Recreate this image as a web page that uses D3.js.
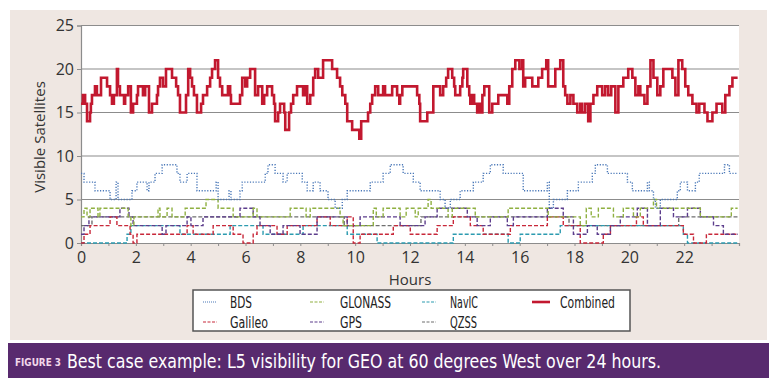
<!DOCTYPE html>
<html><head><meta charset="utf-8">
<script src="https://cdn.jsdelivr.net/npm/d3@7"></script>
<style>
html,body{margin:0;padding:0;background:#fff;}
svg{display:block;}
</style></head>
<body><svg id="c" width="776" height="387"></svg>
<script>
// ---- data: [hour, visible satellites] change points (step series) ----
const hoursTicks = [0,2,4,6,8,10,12,14,16,18,20,22];
const yTicks = [0,5,10,15,20,25];
const seriesNames = ["BDS","GLONASS","NavIC","Combined","Galileo","GPS","QZSS"];

const combined = [[0,16],[0.07,17],[0.15,16],[0.22,14],[0.33,15],[0.36,16],[0.40,17],[0.51,18],[0.58,17],[0.73,19],[0.95,18],[1.06,17],[1.13,16],[1.20,17],[1.31,20],[1.35,18],[1.42,17],[1.57,16],[1.61,17],[1.72,18],[1.82,15],[1.90,16],[2.04,17],[2.08,18],[2.26,17],[2.34,18],[2.48,15],[2.59,16],[2.77,17],[2.81,18],[2.88,19],[2.99,18],[3.10,20],[3.32,19],[3.47,18],[3.54,17],[3.61,15],[3.83,17],[3.91,20],[3.98,19],[4.05,18],[4.12,17],[4.23,15],[4.38,16],[4.45,17],[4.60,18],[4.71,19],[4.78,20],[4.89,21],[5.00,19],[5.07,18],[5.15,17],[5.36,18],[5.44,17],[5.47,16],[5.80,17],[5.88,19],[5.99,18],[6.06,19],[6.17,20],[6.35,17],[6.46,18],[6.61,16],[6.68,17],[6.79,18],[6.97,17],[7.04,16],[7.08,14],[7.19,15],[7.26,16],[7.41,15],[7.45,13],[7.59,15],[7.66,16],[7.74,17],[7.88,18],[8.10,17],[8.18,18],[8.25,16],[8.36,17],[8.47,19],[8.54,20],[8.65,19],[8.83,21],[9.16,20],[9.34,19],[9.45,18],[9.53,17],[9.64,16],[9.71,14],[9.89,13],[10.15,12],[10.22,14],[10.47,15],[10.55,16],[10.62,17],[10.73,18],[10.84,17],[11.02,18],[11.09,17],[11.35,18],[11.53,17],[11.61,16],[11.64,17],[11.72,18],[12.26,17],[12.34,16],[12.37,14],[12.63,15],[12.85,18],[13.10,17],[13.21,18],[13.32,19],[13.39,20],[13.54,19],[13.61,18],[13.65,17],[13.83,18],[13.91,19],[13.94,20],[14.09,18],[14.16,17],[14.20,16],[14.27,17],[14.34,16],[14.45,15],[14.53,16],[14.56,15],[14.64,17],[14.71,18],[14.89,15],[15.00,16],[15.22,17],[15.55,16],[15.62,18],[15.73,20],[15.84,21],[15.99,20],[16.09,21],[16.13,18],[16.20,19],[16.46,18],[16.68,19],[16.82,20],[16.97,21],[17.04,18],[17.30,20],[17.48,21],[17.59,18],[17.66,17],[17.74,16],[17.85,17],[17.96,16],[18.10,15],[18.21,16],[18.28,15],[18.39,16],[18.50,14],[18.58,16],[18.69,17],[18.83,18],[19.01,17],[19.12,18],[19.23,17],[19.34,18],[19.49,15],[19.60,18],[19.78,19],[19.96,20],[20.11,19],[20.22,17],[20.33,18],[20.40,17],[20.55,16],[20.66,18],[20.77,21],[20.88,19],[21.02,17],[21.13,18],[21.24,20],[21.57,19],[21.68,17],[21.79,21],[21.93,20],[22.04,18],[22.15,17],[22.30,16],[22.45,15],[22.55,16],[22.74,15],[22.85,14],[23.03,15],[23.18,16],[23.39,15],[23.50,17],[23.65,18],[23.76,19],[23.95,19]];

const bds = [[0,8],[0.11,7],[0.51,6],[1.06,5],[1.28,7],[1.35,5],[1.86,6],[2.04,7],[2.41,6],[2.48,7],[2.70,8],[2.96,9],[3.50,8],[3.61,7],[3.87,8],[4.23,6],[4.93,7],[5.00,5],[5.40,6],[5.47,5],[5.80,6],[5.88,7],[6.72,8],[6.82,9],[7.08,8],[7.37,7],[7.52,8],[8.07,7],[8.25,6],[8.47,7],[8.72,6],[9.01,5],[9.27,4],[9.53,5],[9.71,6],[10.55,7],[11.02,8],[11.28,9],[11.75,8],[12.12,7],[12.37,6],[13.10,5],[13.28,4],[13.47,5],[13.83,6],[14.31,7],[14.67,8],[14.93,9],[15.40,8],[16.13,6],[17.01,7],[17.08,4],[17.23,5],[17.74,6],[18.14,7],[18.65,8],[18.76,9],[19.20,8],[19.93,7],[20.11,6],[20.66,7],[20.73,6],[20.88,5],[20.95,4],[21.13,5],[21.75,6],[21.86,7],[22.12,6],[22.41,7],[22.55,8],[23.47,9],[23.65,8],[23.95,8]];

const glonass = [[0,3],[0.11,4],[0.22,3],[0.33,4],[0.62,3],[0.69,4],[1.72,3],[1.82,2],[1.93,3],[2.81,4],[2.88,3],[3.14,4],[3.32,3],[3.80,4],[4.56,5],[5.00,4],[5.55,3],[6.28,4],[6.42,3],[7.63,4],[8.21,3],[8.36,4],[9.45,3],[9.56,2],[10.66,4],[10.77,3],[11.02,4],[11.64,3],[11.86,4],[12.19,3],[12.30,4],[12.66,5],[12.77,4],[13.39,3],[13.54,4],[14.38,3],[15.58,4],[17.04,3],[18.21,2],[18.43,4],[18.61,3],[18.87,4],[19.42,3],[19.78,4],[20.15,3],[20.40,4],[20.88,5],[20.99,4],[22.59,3],[23.72,4],[23.95,4]];

const navic = [[0,0],[1.68,1],[1.82,2],[3.61,1],[5.44,2],[6.64,1],[8.10,2],[9.71,1],[10.80,0],[13.58,1],[15.58,0],[16.02,1],[17.48,2],[21.97,1],[22.12,0],[23.95,0]];

const galileo = [[0,0],[0.11,1],[0.33,2],[1.06,3],[1.31,2],[1.79,1],[1.90,0],[2.04,1],[3.87,2],[4.09,1],[4.82,2],[5.55,1],[5.91,0],[6.28,1],[6.42,2],[7.15,1],[7.52,2],[8.61,3],[9.09,2],[9.71,3],[9.93,0],[10.18,1],[11.39,2],[12.01,1],[12.99,2],[13.58,3],[14.20,2],[14.67,1],[15.66,2],[17.01,3],[17.59,2],[18.21,0],[19.05,1],[19.31,2],[20.26,3],[20.51,2],[21.97,1],[22.34,0],[22.81,1],[23.95,1]];

const gps = [[0,1],[0.11,2],[0.29,3],[1.42,4],[1.75,3],[1.90,2],[2.96,1],[3.10,2],[3.87,3],[4.01,2],[4.45,3],[5.80,4],[6.28,3],[6.53,2],[6.90,1],[7.37,2],[7.99,1],[8.61,3],[9.71,2],[10.18,3],[11.64,2],[12.55,3],[12.99,4],[14.09,3],[14.45,2],[14.93,3],[15.55,2],[15.77,3],[17.01,4],[17.59,3],[17.96,1],[18.47,2],[18.83,1],[19.31,2],[19.67,3],[20.29,4],[20.66,2],[21.13,4],[21.61,3],[22.12,4],[22.59,3],[23.07,2],[23.43,1],[23.95,1]];

const qzss = [[0,2],[0.40,3],[9.60,2],[12.40,3],[17.80,2],[21.80,3],[23.95,3]];

// ---- drawing ----
const svg = d3.select("#c");
const x = d3.scaleLinear().domain([0,24]).range([81,739]);
const y = d3.scaleLinear().domain([0,25]).range([243,25.5]);

svg.append("rect").attr("x",10).attr("y",10).attr("width",757).attr("height",330).attr("fill","#efe7e2");
svg.append("rect").attr("x",x(0)).attr("y",y(25)).attr("width",x(24)-x(0)).attr("height",y(0)-y(25)).attr("fill","#fff");

svg.append("g").selectAll("line").data(yTicks.filter(d=>d>0)).join("line")
  .attr("x1",x(0)).attr("x2",x(24)).attr("y1",d=>y(d)).attr("y2",d=>y(d))
  .attr("stroke","#8c8c8c").attr("stroke-width",1.2);

const tickFont = "'Open Sans', 'Noto Sans', sans-serif";

const xAxis = d3.axisBottom(x).tickValues(d3.range(0,24,1)).tickSize(3)
  .tickFormat(d => hoursTicks.includes(d) ? String(d) : "");
const gx = svg.append("g").attr("transform",`translate(0,${y(0)})`).call(xAxis);
gx.select(".domain").attr("stroke","#8c8c8c").attr("stroke-width",1.2);
gx.selectAll(".tick line").attr("stroke","#8c8c8c");
gx.selectAll("text").attr("font-family",tickFont).attr("font-size",16).attr("fill","#333").attr("dy","0.85em");

const yAxis = d3.axisLeft(y).tickValues(yTicks).tickSize(4).tickPadding(3);
const gy = svg.append("g").attr("transform",`translate(${x(0)},0)`).call(yAxis);
gy.select(".domain").attr("stroke","#8c8c8c").attr("stroke-width",1.2);
gy.selectAll(".tick line").attr("stroke","#8c8c8c");
gy.selectAll("text").attr("font-family",tickFont).attr("font-size",16).attr("fill","#333");

svg.append("text").attr("x",410).attr("y",285).attr("text-anchor","middle")
  .attr("font-family",tickFont).attr("font-size",15).attr("fill","#333").text("Hours");
svg.append("text").attr("transform","translate(45,137) rotate(-90)").attr("text-anchor","middle")
  .attr("font-family",tickFont).attr("font-size",15).attr("fill","#333").text("Visible Satellites");

const styles = {
  BDS:      {data:bds,      color:"#4a78b8", width:1.4, dash:"1.2,1.6"},
  GLONASS:  {data:glonass,  color:"#8fb041", width:1.4, dash:"4,2"},
  NavIC:    {data:navic,    color:"#2c9bb0", width:1.4, dash:"4,2"},
  Galileo:  {data:galileo,  color:"#c8283a", width:1.4, dash:"4,2"},
  GPS:      {data:gps,      color:"#5c3d8c", width:1.4, dash:"4,2"},
  QZSS:     {data:qzss,     color:"#6f6f6f", width:1.4, dash:"4,2"},
  Combined: {data:combined, color:"#c2182f", width:2.6, dash:null}
};
const line = d3.line().x(d=>x(d[0])).y(d=>y(d[1])).curve(d3.curveStepAfter);
const drawOrder = ["QZSS","NavIC","Galileo","GPS","GLONASS","BDS","Combined"];
const gS = svg.append("g");
drawOrder.forEach(n => {
  const s = styles[n];
  gS.append("path").datum(s.data).attr("d",line).attr("fill","none")
    .attr("stroke",s.color).attr("stroke-width",s.width)
    .attr("stroke-dasharray",s.dash).attr("stroke-linejoin","miter");
});

// legend
const legFont = "'DejaVu Sans Condensed', 'Liberation Sans Narrow', 'Open Sans', sans-serif";
svg.append("rect").attr("x",193).attr("y",290).attr("width",437).attr("height",41)
  .attr("fill","#fff").attr("stroke","#555").attr("stroke-width",1.5);
const legLayout = {
  BDS:[203,302,230,22], GLONASS:[310,302,340,51], NavIC:[422,302,450,28], Combined:[532,302,560,55],
  Galileo:[203,322,230,38], GPS:[310,322,340,22], QZSS:[422,322,450,27]
};
seriesNames.forEach(n => {
  const s = styles[n], p = legLayout[n];
  const lw = n==="Combined" ? 18 : 14;
  svg.append("line").attr("x1",p[0]).attr("x2",p[0]+lw).attr("y1",p[1]).attr("y2",p[1])
    .attr("stroke",s.color).attr("stroke-width",n==="Combined"?2.6:1.2)
    .attr("stroke-dasharray",n==="BDS"?"1,1":(s.dash?"3,1.5":null));
  svg.append("text").attr("x",p[2]).attr("y",p[1]+5.5)
    .attr("font-family",legFont).attr("font-size",16).attr("fill","#222")
    .attr("textLength",p[3]).attr("lengthAdjust","spacingAndGlyphs").text(n);
});

// caption bar
svg.append("rect").attr("x",8).attr("y",343).attr("width",761).attr("height",35).attr("fill","#582a6e");
svg.append("text").attr("x",15).attr("y",366).attr("font-family",legFont).attr("font-weight","bold")
  .attr("font-size",11).attr("fill","#f2d6ea").attr("textLength",46).attr("lengthAdjust","spacingAndGlyphs").text("FIGURE 3");
svg.append("text").attr("x",67).attr("y",368).attr("font-family",legFont)
  .attr("font-size",19).attr("fill","#fff").attr("textLength",594).attr("lengthAdjust","spacingAndGlyphs")
  .text("Best case example: L5 visibility for GEO at 60 degrees West over 24 hours.");
</script></body></html>
